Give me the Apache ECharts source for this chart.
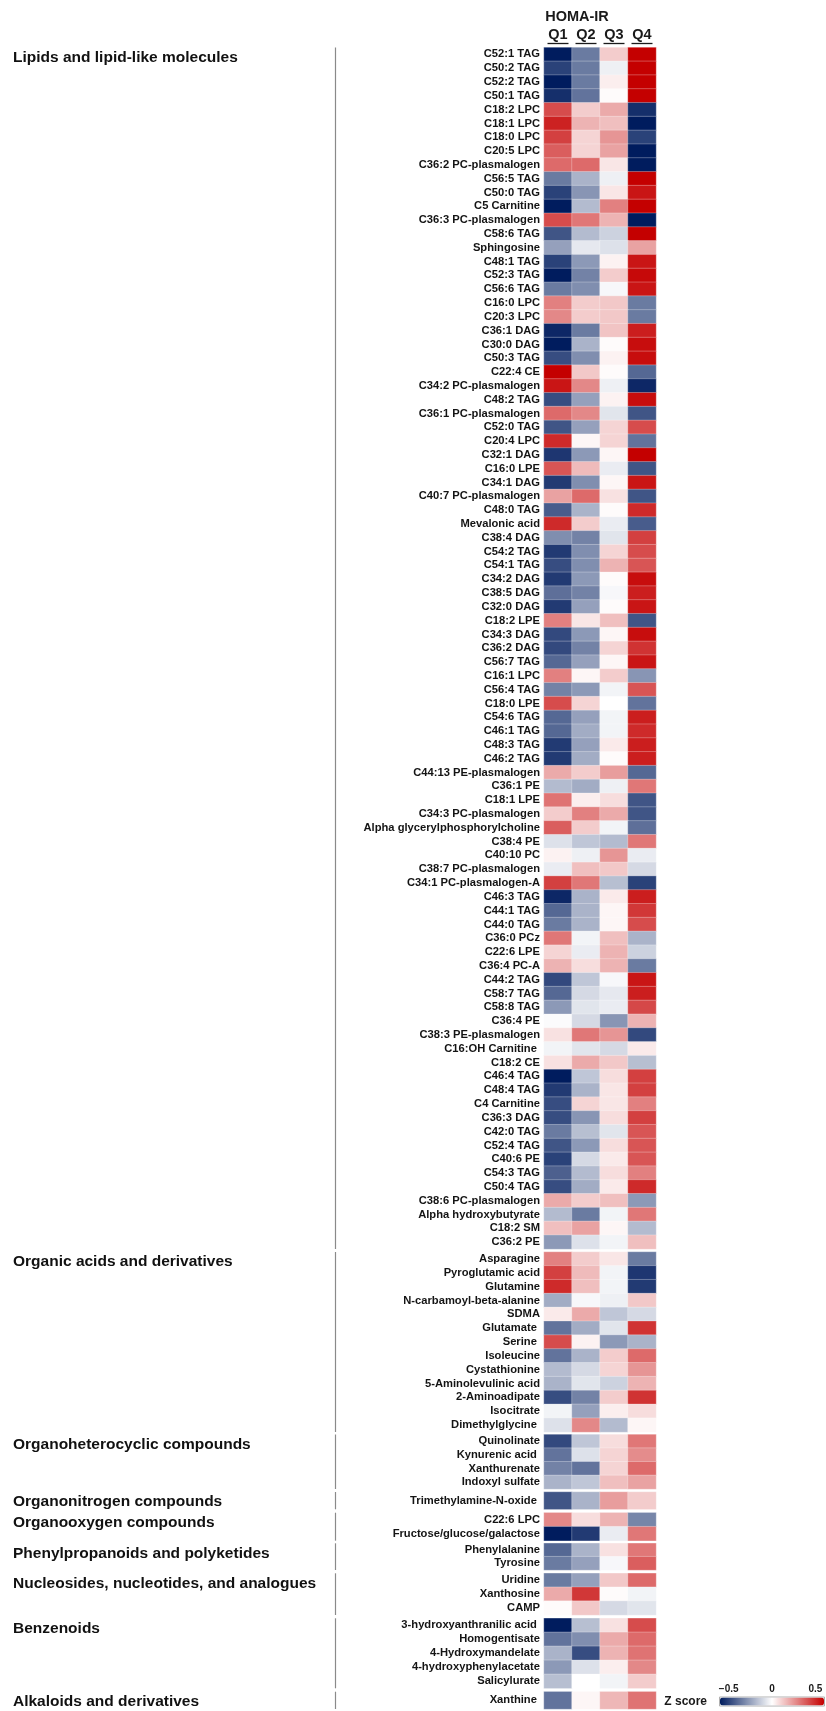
<!DOCTYPE html>
<html>
<head>
<meta charset="utf-8">
<title>HOMA-IR quartile heatmap</title>
<script src="https://cdn.jsdelivr.net/npm/echarts@6/dist/echarts.min.js"></script>
<style>
  html, body { margin: 0; padding: 0; background: #ffffff; }
  #chart { width: 826px; height: 1711px; }
</style>
</head>
<body>
<div id="chart"></div>
<script>
// Quartile columns
const quartiles = ['Q1', 'Q2', 'Q3', 'Q4'];

// Group titles (chemical classes)
const groupTitles = [
  'Lipids and lipid-like molecules',
  'Organic acids and derivatives',
  'Organoheterocyclic compounds',
  'Organonitrogen compounds',
  'Organooxygen compounds',
  'Phenylpropanoids and polyketides',
  'Nucleosides, nucleotides, and analogues',
  'Benzenoids',
  'Alkaloids and derivatives'
];

// Lipids and lipid-like molecules
const lipidNames = [
  'C52:1 TAG', 'C50:2 TAG', 'C52:2 TAG', 'C50:1 TAG', 'C18:2 LPC', 'C18:1 LPC', 'C18:0 LPC', 'C20:5 LPC',
  'C36:2 PC-plasmalogen', 'C56:5 TAG', 'C50:0 TAG', 'C5 Carnitine', 'C36:3 PC-plasmalogen', 'C58:6 TAG',
  'Sphingosine', 'C48:1 TAG', 'C52:3 TAG', 'C56:6 TAG', 'C16:0 LPC', 'C20:3 LPC', 'C36:1 DAG', 'C30:0 DAG',
  'C50:3 TAG', 'C22:4 CE', 'C34:2 PC-plasmalogen', 'C48:2 TAG', 'C36:1 PC-plasmalogen', 'C52:0 TAG',
  'C20:4 LPC', 'C32:1 DAG', 'C16:0 LPE', 'C34:1 DAG', 'C40:7 PC-plasmalogen', 'C48:0 TAG', 'Mevalonic acid',
  'C38:4 DAG', 'C54:2 TAG', 'C54:1 TAG', 'C34:2 DAG', 'C38:5 DAG', 'C32:0 DAG', 'C18:2 LPE', 'C34:3 DAG',
  'C36:2 DAG', 'C56:7 TAG', 'C16:1 LPC', 'C56:4 TAG', 'C18:0 LPE', 'C54:6 TAG', 'C46:1 TAG', 'C48:3 TAG',
  'C46:2 TAG', 'C44:13 PE-plasmalogen', 'C36:1 PE', 'C18:1 LPE', 'C34:3 PC-plasmalogen',
  'Alpha glycerylphosphorylcholine', 'C38:4 PE', 'C40:10 PC', 'C38:7 PC-plasmalogen', 'C34:1 PC-plasmalogen-A',
  'C46:3 TAG', 'C44:1 TAG', 'C44:0 TAG', 'C36:0 PCz', 'C22:6 LPE', 'C36:4 PC-A', 'C44:2 TAG', 'C58:7 TAG',
  'C58:8 TAG', 'C36:4 PE', 'C38:3 PE-plasmalogen', 'C16:OH Carnitine ', 'C18:2 CE', 'C46:4 TAG', 'C48:4 TAG',
  'C4 Carnitine', 'C36:3 DAG', 'C42:0 TAG', 'C52:4 TAG', 'C40:6 PE', 'C54:3 TAG', 'C50:4 TAG',
  'C38:6 PC-plasmalogen', 'Alpha hydroxybutyrate', 'C18:2 SM', 'C36:2 PE'
];
const lipidValues = [
  [-0.60, -0.35, 0.12, 0.60], [-0.50, -0.35, -0.04, 0.60], [-0.60, -0.35, 0.04, 0.60], [-0.55, -0.37, 0.01, 0.60],
  [0.42, 0.12, 0.20, -0.55], [0.52, 0.18, 0.15, -0.60], [0.45, 0.10, 0.25, -0.50], [0.38, 0.10, 0.22, -0.60],
  [0.35, 0.35, 0.06, -0.60], [-0.35, -0.20, -0.04, 0.60], [-0.50, -0.28, 0.06, 0.55], [-0.60, -0.18, 0.30, 0.60],
  [0.42, 0.32, 0.18, -0.60], [-0.45, -0.18, -0.12, 0.60], [-0.25, -0.06, -0.08, 0.22], [-0.50, -0.27, 0.03, 0.55],
  [-0.60, -0.33, 0.12, 0.58], [-0.35, -0.30, -0.02, 0.55], [0.30, 0.12, 0.13, -0.35], [0.28, 0.12, 0.13, -0.35],
  [-0.57, -0.35, 0.14, 0.53], [-0.60, -0.20, 0.01, 0.57], [-0.47, -0.30, 0.03, 0.57], [0.60, 0.13, 0.01, -0.40],
  [0.55, 0.28, -0.04, -0.57], [-0.47, -0.25, 0.03, 0.57], [0.35, 0.28, -0.07, -0.45], [-0.45, -0.25, 0.10, 0.42],
  [0.50, 0.02, 0.10, -0.37], [-0.53, -0.27, 0.02, 0.60], [0.40, 0.16, -0.05, -0.45], [-0.52, -0.30, 0.02, 0.55],
  [0.22, 0.35, 0.07, -0.45], [-0.43, -0.20, 0.01, 0.50], [0.50, 0.12, -0.05, -0.43], [-0.30, -0.33, -0.07, 0.45],
  [-0.52, -0.30, 0.10, 0.42], [-0.47, -0.30, 0.18, 0.40], [-0.52, -0.27, 0.01, 0.57], [-0.38, -0.33, -0.02, 0.53],
  [-0.52, -0.25, 0.01, 0.55], [0.30, 0.06, 0.15, -0.45], [-0.48, -0.27, 0.02, 0.57], [-0.48, -0.33, 0.10, 0.48],
  [-0.40, -0.25, 0.02, 0.55], [0.30, 0.02, 0.12, -0.28], [-0.33, -0.27, -0.03, 0.40], [0.42, 0.10, 0.00, -0.37],
  [-0.40, -0.25, -0.03, 0.53], [-0.40, -0.22, -0.03, 0.50], [-0.52, -0.25, 0.05, 0.53], [-0.52, -0.22, 0.01, 0.53],
  [0.20, 0.12, 0.23, -0.40], [-0.18, -0.22, -0.04, 0.32], [0.33, 0.04, 0.08, -0.45], [0.12, 0.30, 0.20, -0.45],
  [0.38, 0.12, -0.03, -0.38], [-0.08, -0.15, -0.18, 0.32], [0.03, -0.04, 0.25, -0.05], [-0.05, 0.15, 0.13, -0.10],
  [0.45, 0.32, -0.17, -0.50], [-0.57, -0.20, 0.05, 0.53], [-0.40, -0.20, 0.02, 0.47], [-0.35, -0.20, 0.02, 0.42],
  [0.32, -0.03, 0.15, -0.20], [0.10, -0.05, 0.18, -0.12], [0.18, 0.08, 0.18, -0.35], [-0.48, -0.15, -0.02, 0.55],
  [-0.40, -0.10, -0.06, 0.53], [-0.27, -0.07, -0.05, 0.43], [-0.01, -0.10, -0.28, 0.18], [0.07, 0.32, 0.25, -0.48],
  [-0.03, -0.07, -0.10, 0.05], [0.07, 0.20, 0.13, -0.17], [-0.60, -0.15, 0.08, 0.45], [-0.52, -0.20, 0.06, 0.45],
  [-0.47, 0.10, 0.06, 0.30], [-0.47, -0.28, 0.08, 0.45], [-0.35, -0.17, -0.07, 0.40], [-0.45, -0.27, 0.08, 0.40],
  [-0.50, -0.10, 0.05, 0.40], [-0.42, -0.18, 0.08, 0.30], [-0.47, -0.22, 0.05, 0.50], [0.20, 0.12, 0.15, -0.27],
  [-0.18, -0.35, -0.03, 0.32], [0.15, 0.22, 0.02, -0.18], [-0.27, -0.08, -0.03, 0.15]
];

// Organic acids and derivatives
const organicAcidNames = [
  'Asparagine', 'Pyroglutamic acid', 'Glutamine', 'N-carbamoyl-beta-alanine', 'SDMA', 'Glutamate ', 'Serine ',
  'Isoleucine', 'Cystathionine', '5-Aminolevulinic acid', '2-Aminoadipate', 'Isocitrate', 'Dimethylglycine '
];
const organicAcidValues = [
  [0.30, 0.12, 0.06, -0.35], [0.45, 0.16, -0.03, -0.53], [0.50, 0.15, -0.03, -0.52], [-0.22, -0.02, -0.04, 0.13],
  [0.05, 0.20, -0.15, -0.10], [-0.37, -0.22, -0.07, 0.48], [0.42, 0.03, -0.27, -0.20], [-0.37, -0.20, 0.12, 0.35],
  [-0.18, -0.10, 0.10, 0.25], [-0.20, -0.07, -0.12, 0.18], [-0.47, -0.33, 0.12, 0.48], [-0.03, -0.25, 0.04, 0.08],
  [-0.08, 0.28, -0.18, 0.02]
];

// Organoheterocyclic compounds
const heterocyclicNames = ['Quinolinate', 'Kynurenic acid ', 'Xanthurenate', 'Indoxyl sulfate'];
const heterocyclicValues = [
  [-0.48, -0.15, 0.08, 0.32], [-0.37, -0.08, 0.10, 0.27], [-0.33, -0.37, 0.10, 0.35], [-0.20, -0.15, 0.15, 0.22]
];

// Organonitrogen compounds
const nitrogenNames = ['Trimethylamine-N-oxide '];
const nitrogenValues = [[-0.45, -0.20, 0.23, 0.12]];

// Organooxygen compounds
const oxygenNames = ['C22:6 LPC', 'Fructose/glucose/galactose'];
const oxygenValues = [[0.28, 0.08, 0.18, -0.32], [-0.60, -0.52, -0.05, 0.32]];

// Phenylpropanoids and polyketides
const phenylNames = ['Phenylalanine', 'Tyrosine'];
const phenylValues = [[-0.40, -0.20, 0.07, 0.32], [-0.35, -0.25, -0.02, 0.38]];

// Nucleosides, nucleotides, and analogues
const nucleosideNames = ['Uridine', 'Xanthosine', 'CAMP'];
const nucleosideValues = [[-0.35, -0.25, 0.13, 0.35], [0.20, 0.47, 0.01, -0.03], [0.01, 0.13, -0.10, -0.07]];

// Benzenoids
const benzenoidNames = [
  '3-hydroxyanthranilic acid ', 'Homogentisate', '4-Hydroxymandelate', '4-hydroxyphenylacetate', 'Salicylurate'
];
const benzenoidValues = [
  [-0.60, -0.17, 0.07, 0.42], [-0.37, -0.30, 0.20, 0.35], [-0.20, -0.47, 0.18, 0.33],
  [-0.27, -0.08, 0.04, 0.28], [-0.17, 0.00, -0.03, 0.12]
];

// Alkaloids and derivatives
const alkaloidNames = ['Xanthine '];
const alkaloidValues = [[-0.37, 0.02, 0.17, 0.33]];

// Colour-scale ticks
const scaleTicks = [-0.5, 0, 0.5];
const scaleTickLabels = ['\u22120.5', '0', '0.5'];

const groupNames = [lipidNames, organicAcidNames, heterocyclicNames, nitrogenNames, oxygenNames,
  phenylNames, nucleosideNames, benzenoidNames, alkaloidNames];
const groupValues = [lipidValues, organicAcidValues, heterocyclicValues, nitrogenValues, oxygenValues,
  phenylValues, nucleosideValues, benzenoidValues, alkaloidValues];

// Panel placement: [top, height] of each class block
const panelBoxes = [
  [47.5, 1201.5], [1252, 180], [1434.5, 54.5], [1492, 17.3], [1512.7, 28],
  [1543.3, 26.7], [1573.3, 41.7], [1618.3, 70], [1691.7, 17.3]
];
const heatLeft = 544, heatWidth = 112;
const dividerX = 335.5;
const FONT = '"Liberation Sans", Arial, Helvetica, sans-serif';

// Colour bar geometry
const barMin = -0.6, barMax = 0.6, barLeft = 720, barTop = 1697.5, barLen = 104, barThick = 8;

const chart = echarts.init(document.getElementById('chart'), null, { renderer: 'canvas' });

const grids = [], xAxes = [], yAxes = [], series = [];
groupNames.forEach((names, g) => {
  const [top, height] = panelBoxes[g];
  grids.push({ left: heatLeft, width: heatWidth, top: top, height: height, containLabel: false });
  xAxes.push({
    type: 'category', gridIndex: g, data: quartiles, position: 'top',
    axisLine: { show: false }, axisTick: { show: false }, splitLine: { show: false },
    axisLabel: {
      show: g === 0, margin: 5, fontFamily: FONT, fontWeight: 'bold', fontSize: 14.5, color: '#1a1a1a'
    }
  });
  yAxes.push({
    type: 'category', gridIndex: g, data: names, inverse: true,
    axisLine: { show: false }, axisTick: { show: false }, splitLine: { show: false },
    axisLabel: {
      interval: 0, margin: 4, fontFamily: FONT, fontWeight: 'bold', fontSize: 11.2, color: '#141414'
    }
  });
  const cells = [];
  groupValues[g].forEach((row, r) => row.forEach((v, c) => cells.push([c, r, v])));
  series.push({
    type: 'heatmap', xAxisIndex: g, yAxisIndex: g, data: cells,
    itemStyle: { borderColor: 'rgba(255,255,255,0.55)', borderWidth: 0.5 },
    emphasis: { disabled: true }, label: { show: false }
  });
});

chart.setOption({
  animation: false,
  backgroundColor: '#ffffff',
  grid: grids,
  xAxis: xAxes,
  yAxis: yAxes,
  visualMap: {
    type: 'continuous', min: barMin, max: barMax, calculable: false, realtime: false,
    orient: 'horizontal', left: barLeft, top: barTop, itemWidth: barThick, itemHeight: barLen,
    padding: 0, text: null, showLabel: false, hoverLink: false,
    inRange: { color: ['#001c5e', '#ffffff', '#c40000'] }
  },
  series: series
});

// Decorations: title, underlines, class dividers and titles, colour-bar labels
const graphics = [];
graphics.push({
  type: 'text', x: 577, y: 16.5,
  style: { text: 'HOMA-IR', fill: '#1a1a1a', font: 'bold 14.5px ' + FONT, textAlign: 'center', textVerticalAlign: 'middle' }
});
quartiles.forEach(q => {
  const px = chart.convertToPixel({ xAxisIndex: 0, yAxisIndex: 0 }, [q, groupNames[0][0]]);
  graphics.push({
    type: 'line', shape: { x1: px[0] - 10.5, y1: 43.5, x2: px[0] + 10.5, y2: 43.5 },
    style: { stroke: '#1a1a1a', lineWidth: 1.3 }
  });
});
panelBoxes.forEach(([top, height], g) => {
  graphics.push({
    type: 'line', shape: { x1: dividerX, y1: top, x2: dividerX, y2: top + height },
    style: { stroke: '#8a8a8a', lineWidth: 1.2 }
  });
  graphics.push({
    type: 'text', x: 13, y: top + 10,
    style: { text: groupTitles[g], fill: '#111111', font: 'bold 15.5px ' + FONT, textAlign: 'left', textVerticalAlign: 'middle' }
  });
});
scaleTicks.forEach((t, i) => {
  const x = barLeft + (t - barMin) / (barMax - barMin) * barLen;
  graphics.push({
    type: 'text', x: x, y: 1689.5,
    style: { text: scaleTickLabels[i], fill: '#1a1a1a', font: 'bold 10px ' + FONT, textAlign: 'center', textVerticalAlign: 'middle' }
  });
});
graphics.push({
  type: 'text', x: 707, y: 1701.5,
  style: { text: 'Z score', fill: '#1a1a1a', font: 'bold 12px ' + FONT, textAlign: 'right', textVerticalAlign: 'middle' }
});
graphics.push({
  type: 'rect', shape: { x: barLeft - 0.5, y: barTop - 0.5, width: barLen + 1, height: barThick + 1 },
  style: { fill: 'none', stroke: '#b0b0b0', lineWidth: 1 }, silent: true
});
chart.setOption({ graphic: graphics });
</script>
</body>
</html>
